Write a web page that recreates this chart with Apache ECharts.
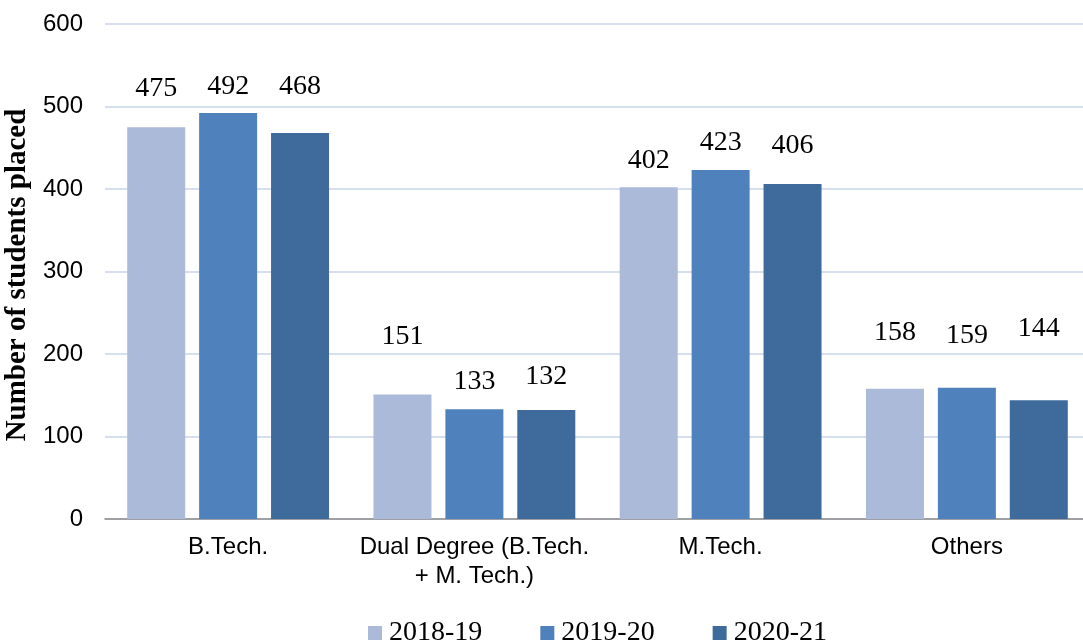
<!DOCTYPE html>
<html>
<head>
<meta charset="utf-8">
<script src="https://cdn.jsdelivr.net/npm/echarts@6/dist/echarts.min.js"></script>
<style>
  html, body { margin: 0; padding: 0; background: #fff; }
  #chart { width: 1083px; height: 644px; }
</style>
</head>
<body>
<div id="chart"></div>
<script>
const categories = ["B.Tech.", "Dual Degree (B.Tech.\n+ M. Tech.)", "M.Tech.", "Others"];
const years = ["2018-19", "2019-20", "2020-21"];
const placed2018 = [475, 151, 402, 158];
const placed2019 = [492, 133, 423, 159];
const placed2020 = [468, 132, 406, 144];

// labels in the original sit at uneven heights above the bars
const lift2018 = [24, 44, 13, 42];
const lift2019 = [12, 14, 13, 38];
const lift2020 = [32, 19, 24, 58];

const COLORS = ["#ABBAD8", "#4F81BD", "#3F6A9C"];
const SERIF = "'Liberation Serif', 'Times New Roman', serif";
const SANS = "'Liberation Sans', Arial, sans-serif";

function makeSeries(name, values, lifts, color) {
    return {
        name: name,
        type: "bar",
        barWidth: 58,
        barGap: "24%",
        itemStyle: { color: color },
        label: {
            show: true,
            position: "top",
            color: "#000",
            fontFamily: SERIF,
            fontSize: 28,
        },
        data: values.map((v, i) => ({ value: v, label: { distance: lifts[i] } })),
    };
}

var chart = echarts.init(document.getElementById("chart"));
chart.setOption({
    backgroundColor: "#fff",
    animation: false,
    grid: { left: 105, right: -7, top: 24, bottom: 125, containLabel: false, outerBoundsMode: "none" },
    legend: {
        data: years,
        left: 363,
        top: 614,
        icon: "rect",
        itemWidth: 14,
        itemHeight: 14,
        itemGap: 58,
        textStyle: { color: "#000", fontFamily: SERIF, fontSize: 28, padding: [0, 0, 0, 2] },
    },
    xAxis: {
        type: "category",
        data: categories,
        axisTick: { show: false },
        axisLine: { lineStyle: { color: "#8C8C8C", width: 1.5 } },
        axisLabel: {
            color: "#000",
            fontFamily: SANS,
            fontSize: 24,
            lineHeight: 29,
            margin: 14,
            interval: 0,
        },
    },
    yAxis: {
        type: "value",
        min: 0,
        max: 600,
        interval: 100,
        name: "Number of students placed",
        nameLocation: "middle",
        nameGap: 69,
        nameTextStyle: {
            color: "#000",
            fontFamily: SERIF,
            fontWeight: "bold",
            fontSize: 29,
            padding: [0, 7, 0, 0],
        },
        axisLine: { show: false },
        axisTick: { show: false },
        splitLine: { lineStyle: { color: "#D5DFEE", width: 2 } },
        axisLabel: {
            color: "#000",
            fontFamily: SANS,
            fontSize: 24,
            margin: 22,
        },
    },
    series: [
        makeSeries(years[0], placed2018, lift2018, COLORS[0]),
        makeSeries(years[1], placed2019, lift2019, COLORS[1]),
        makeSeries(years[2], placed2020, lift2020, COLORS[2]),
    ],
});
</script>
</body>
</html>
